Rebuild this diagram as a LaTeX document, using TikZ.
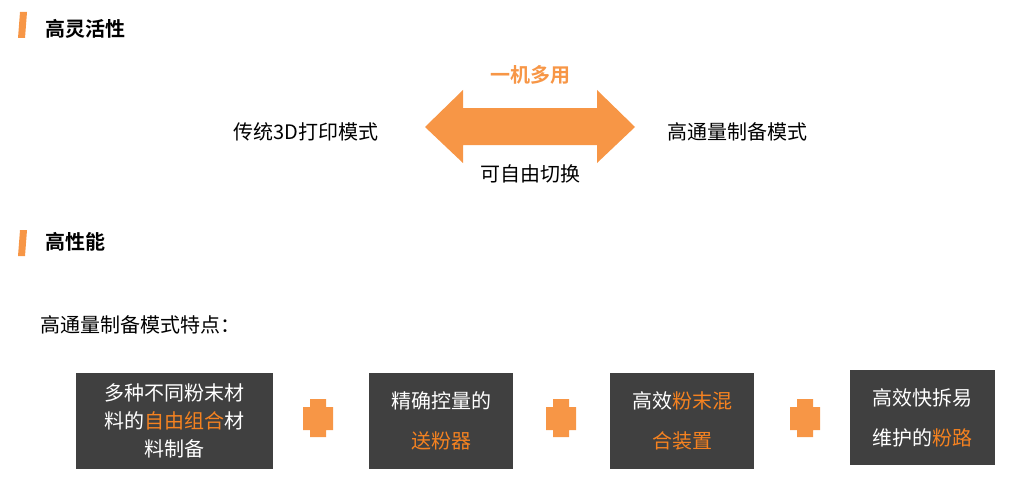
\documentclass[tikz,border=0pt]{standalone}
\usepackage{fontspec}
\setmainfont{Noto Sans CJK SC}
\newfontfamily\cjkb{Noto Sans CJK SC Bold}
\begin{document}
\begin{tikzpicture}[x=0.75pt,y=-0.75pt]
\definecolor{org}{HTML}{F79646}
\definecolor{hl}{HTML}{F58220}
\definecolor{dk}{HTML}{404040}
\tikzset{txt/.style={font=\fontsize{15}{18}\selectfont,inner sep=0pt},
 hd/.style={font=\cjkb\fontsize{15}{18}\selectfont,inner sep=0pt,anchor=west},
 bx/.style={fill=dk,text=white,font=\fontsize{15}{21}\selectfont,align=center,inner sep=0pt,anchor=north west},
 bar/.style={fill=org}}
\useasboundingbox (0,0) rectangle (1024,492);
% headers
\fill[bar] (20,12)--(27,12)--(25,38)--(18,38)--cycle;
\node[hd] (h1) at (45,29) {高灵活性};
\fill[bar] (20,230)--(27,230)--(25,256)--(18,256)--cycle;
\node[hd] (h2) at (45,242) {高性能};
% arrow
\fill[org] (425,127)--(463,90)--(463,108)--(597,108)--(597,90)--(635,127)--(597,163)--(597,145)--(463,145)--(463,163)--cycle;
\node[txt,font=\cjkb\fontsize{15}{18}\selectfont,text=org] (t1) at (530,75) {一机多用};
\node[txt] (t2) at (530,174) {可自由切换};
\node[txt] (l) at (306,132) {传统3D打印模式};
\node[txt] (r) at (737,132) {高通量制备模式};
\node[txt,anchor=west] (f) at (40,325) {高通量制备模式特点：};
% boxes
\node[bx,minimum width=197*0.75pt,minimum height=96*0.75pt] (b1) at (76,373) {};
\node[txt,text=white,align=center,font=\fontsize{15}{21}\selectfont] at (b1.center) {多种不同粉末材\\料的\textcolor{hl}{自由组合}材\\料制备};
\node[bx,minimum width=144*0.75pt,minimum height=96*0.75pt] (b2) at (369,373) {};
\node[txt,text=white,align=center,font=\fontsize{15}{30}\selectfont] at (b2.center) {精确控量的\\\textcolor{hl}{送粉器}};
\node[bx,minimum width=144*0.75pt,minimum height=96*0.75pt] (b3) at (610,373) {};
\node[txt,text=white,align=center,font=\fontsize{15}{30}\selectfont] at (b3.center) {高效\textcolor{hl}{粉末混}\\\textcolor{hl}{合装置}};
\node[bx,minimum width=145*0.75pt,minimum height=95*0.75pt] (b4) at (850,370) {};
\node[txt,text=white,align=center,font=\fontsize{15}{30}\selectfont] at (b4.center) {高效快拆易\\维护的\textcolor{hl}{粉路}};
% plus signs
\foreach \cx in {318,561,805}{
 \fill[org] (\cx-15,407)--(\cx-8,407)--(\cx-8,399)--(\cx+8,399)--(\cx+8,407)--(\cx+15,407)--(\cx+15,430)--(\cx+8,430)--(\cx+8,437)--(\cx-8,437)--(\cx-8,430)--(\cx-15,430)--cycle;
}
\end{tikzpicture}
\end{document}
